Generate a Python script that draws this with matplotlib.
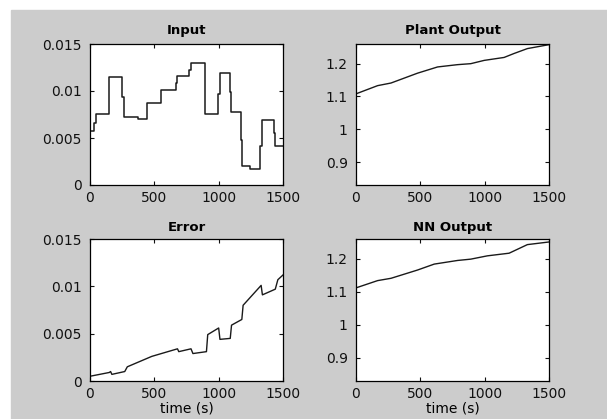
import numpy as np
import matplotlib
matplotlib.use('Agg')
from matplotlib import pyplot as plt
from matplotlib.patches import Rectangle

# input signal (sample and hold)
t_in = [0, 30, 50, 150, 250, 262, 370, 445, 550, 665, 675, 770, 782, 893,
        997, 1007, 1085, 1095, 1170, 1182, 1247, 1325, 1335, 1428, 1438, 1500]
u_in = [0.0057, 0.0066, 0.0076, 0.0115, 0.0094, 0.0072, 0.0070, 0.0087,
        0.0101, 0.0108, 0.0116, 0.0122, 0.0130, 0.0076, 0.0097, 0.0119,
        0.0099, 0.0078, 0.0048, 0.0020, 0.0017, 0.0042, 0.0069, 0.0055,
        0.0042, 0.0042]

# plant output
t_pl = [0, 168, 272, 478, 634, 789, 892, 996, 1151, 1228, 1332, 1500]
y_pl = [1.108, 1.133, 1.141, 1.171, 1.190, 1.197, 1.200, 1.210, 1.219,
        1.231, 1.246, 1.258]

# error
t_err = [0, 150, 160, 170, 270, 290, 480, 580, 680, 690, 785, 800, 905, 915,
         1000, 1010, 1090, 1100, 1180, 1190, 1330, 1340, 1440, 1460, 1500]
e_err = [0.0005, 0.0009, 0.0010, 0.0007, 0.0010, 0.0015, 0.0026, 0.0030,
         0.0034, 0.0031, 0.0034, 0.0029, 0.0031, 0.0049, 0.0056, 0.0044,
         0.0045, 0.0059, 0.0065, 0.0080, 0.0101, 0.0091, 0.0097, 0.0107,
         0.0112]

# NN output
t_nn = [0, 168, 272, 478, 608, 789, 892, 1021, 1190, 1332, 1500]
y_nn = [1.112, 1.134, 1.141, 1.166, 1.184, 1.195, 1.199, 1.209, 1.217,
        1.243, 1.251]

xticks = [0, 500, 1000, 1500]
small_ticks = [0, 0.005, 0.01, 0.015]
small_labels = ['0', '0.005', '0.01', '0.015']
big_ticks = [0.9, 1.0, 1.1, 1.2]
big_labels = ['0.9', '1', '1.1', '1.2']

plt.rcParams['font.family'] = ['DejaVu Sans']

W, H = 607, 419
fig = plt.figure(figsize=(W / 100, H / 100), dpi=100, facecolor='white')
fig.patches.append(Rectangle((11 / W, 0), 1 - 11 / W, 1 - 10 / H,
                             transform=fig.transFigure, color='#cccccc',
                             zorder=-10))


def make_ax(x0, y0, x1, y1):
    ax = fig.add_axes([x0 / W, 1 - y1 / H, (x1 - x0) / W, (y1 - y0) / H])
    ax.set_facecolor('white')
    ax.tick_params(direction='in', top=True, right=True, length=3,
                   width=0.8, labelsize=10, colors='#111111')
    ax.tick_params(axis='y', pad=6)
    ax.tick_params(axis='x', pad=4)
    for s in ax.spines.values():
        s.set_linewidth(0.9)
    ax.set_xlim(0, 1500)
    ax.set_xticks(xticks)
    return ax


ax1 = make_ax(90, 44, 283, 185)
ax1.step(t_in, u_in, where='post', color='#1a1a1a', lw=1.1)
ax1.set_ylim(0, 0.015)
ax1.set_yticks(small_ticks)
ax1.set_yticklabels(small_labels)
ax1.set_title('Input', fontsize=9.5, fontweight='bold', pad=7)

ax2 = make_ax(356, 44, 549, 185)
ax2.plot(t_pl, y_pl, color='#1a1a1a', lw=1.0)
ax2.set_ylim(0.83, 1.26)
ax2.set_yticks(big_ticks)
ax2.set_yticklabels(big_labels)
ax2.set_title('Plant Output', fontsize=9.5, fontweight='bold', pad=7)

ax3 = make_ax(90, 239, 283, 381)
ax3.plot(t_err, e_err, color='#1a1a1a', lw=1.0)
ax3.set_ylim(0, 0.015)
ax3.set_yticks(small_ticks)
ax3.set_yticklabels(small_labels)
ax3.set_title('Error', fontsize=9.5, fontweight='bold', pad=6)
ax3.set_xlabel('time (s)', fontsize=10, labelpad=1)

ax4 = make_ax(356, 239, 549, 381)
ax4.plot(t_nn, y_nn, color='#1a1a1a', lw=1.0)
ax4.set_ylim(0.83, 1.26)
ax4.set_yticks(big_ticks)
ax4.set_yticklabels(big_labels)
ax4.set_title('NN Output', fontsize=9.5, fontweight='bold', pad=6)
ax4.set_xlabel('time (s)', fontsize=10, labelpad=1)

fig.savefig('out.png', dpi=100, facecolor=fig.get_facecolor())
